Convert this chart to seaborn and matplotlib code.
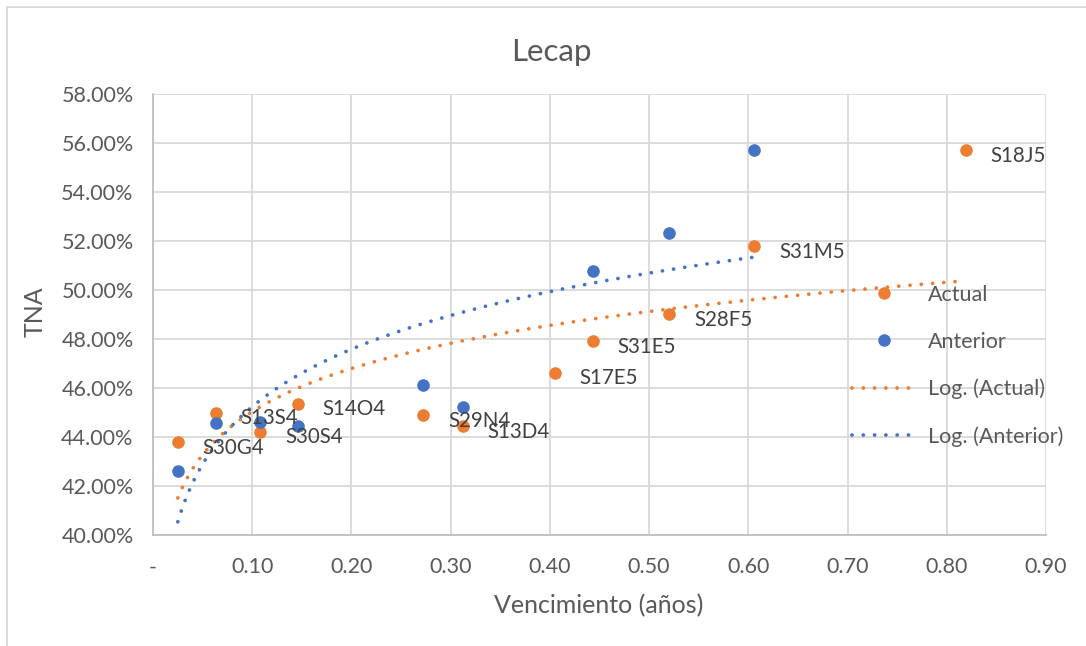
import numpy as np
import pandas as pd
import matplotlib
matplotlib.use("Agg")
import matplotlib.pyplot as plt
import seaborn as sns
from matplotlib.lines import Line2D
from matplotlib.patches import Rectangle
from matplotlib.ticker import FixedLocator, FixedFormatter

# ---------------- data ----------------
actual_x = [0.025, 0.063, 0.108, 0.146, 0.272, 0.312, 0.405, 0.443, 0.520, 0.606, 0.819]
actual_y = [43.79, 44.99, 44.21, 45.36, 44.88, 44.43, 46.61, 47.89, 49.00, 51.77, 55.69]
actual_labels = ["S30G4", "S13S4", "S30S4", "S14O4", "S29N4", "S13D4",
                 "S17E5", "S31E5", "S28F5", "S31M5", "S18J5"]
anterior_x = [0.025, 0.063, 0.108, 0.146, 0.272, 0.312, 0.443, 0.520, 0.606]
anterior_y = [42.60, 44.58, 44.62, 44.45, 46.10, 45.22, 50.75, 52.31, 55.69]

x_ticks = [0.0, 0.1, 0.2, 0.3, 0.4, 0.5, 0.6, 0.7, 0.8, 0.9]
x_tick_labels = ["-", "0.10", "0.20", "0.30", "0.40", "0.50", "0.60", "0.70", "0.80", "0.90"]
y_ticks = [40, 42, 44, 46, 48, 50, 52, 54, 56, 58]
y_tick_labels = ["40.00%", "42.00%", "44.00%", "46.00%", "48.00%",
                 "50.00%", "52.00%", "54.00%", "56.00%", "58.00%"]

title_text = "Lecap"
x_title = "Vencimiento (años)"
y_title = "TNA"
series_names = ["Actual", "Anterior", "Log. (Actual)", "Log. (Anterior)"]

# ---------------- style ----------------
ORANGE = "#ED7D31"
BLUE = "#4472C4"
GRID = "#D9D9D9"
TEXT = "#595959"

sns.set_theme(style="white")
plt.rcParams["font.family"] = ["Lato", "DejaVu Sans"]

W, H = 1086, 646
fig = plt.figure(figsize=(W / 100, H / 100), dpi=100)
fig.patch.set_facecolor("white")

# chart border (light gray), open at right/bottom edges of the crop
fig.add_artist(Rectangle((7 / W, -0.1), 1.2, (1 - 7 / H) + 0.1, transform=fig.transFigure,
                         fill=False, edgecolor=GRID, linewidth=1.3))

ax_left, ax_right, ax_top, ax_bot = 153, 1046, 93.5, 535
ax = fig.add_axes([ax_left / W, 1 - ax_bot / H, (ax_right - ax_left) / W, (ax_bot - ax_top) / H])

df_act = pd.DataFrame({"x": actual_x, "y": actual_y, "label": actual_labels})
df_ant = pd.DataFrame({"x": anterior_x, "y": anterior_y})

sns.scatterplot(data=df_act, x="x", y="y", color=ORANGE, s=82, linewidth=0, ax=ax, zorder=3)
sns.scatterplot(data=df_ant, x="x", y="y", color=BLUE, s=82, linewidth=0, ax=ax, zorder=3)

dot_style = dict(linewidth=2.7, linestyle=(0, (0.01, 3.0)), dash_capstyle="round")


def log_trend(xv, yv):
    xv = np.asarray(xv, float)
    yv = np.asarray(yv, float)
    a, b = np.polyfit(np.log(xv), yv, 1)
    xs = np.linspace(xv.min(), xv.max(), 500)
    return xs, a * np.log(xs) + b


xs_a, ys_a = log_trend(actual_x, actual_y)
xs_b, ys_b = log_trend(anterior_x, anterior_y)
ax.plot(xs_a, ys_a, color=ORANGE, zorder=4, **dot_style)
ax.plot(xs_b, ys_b, color=BLUE, zorder=4, **dot_style)

for xv, yv, lab in zip(actual_x, actual_y, actual_labels):
    ax.annotate(lab, (xv, yv), xytext=(18, -4), textcoords="offset points",
                ha="left", va="center", fontsize=14.8, color="#404040", zorder=5)

ax.set_xlim(0, 0.9)
ax.set_ylim(40, 58)
ax.xaxis.set_major_locator(FixedLocator(x_ticks))
ax.xaxis.set_major_formatter(FixedFormatter(x_tick_labels))
ax.yaxis.set_major_locator(FixedLocator(y_ticks))
ax.yaxis.set_major_formatter(FixedFormatter(y_tick_labels))
ax.grid(True, color=GRID, linewidth=1.3)
ax.set_axisbelow(True)
for side in ["top", "right"]:
    ax.spines[side].set_visible(False)
for side in ["left", "bottom"]:
    ax.spines[side].set_color("#BFBFBF")
    ax.spines[side].set_linewidth(1.3)
ax.tick_params(axis="both", length=0, labelsize=15.5, labelcolor=TEXT)
ax.tick_params(axis="y", pad=14)
ax.tick_params(axis="x", pad=16)
ax.set_xlabel("")
ax.set_ylabel("")

fig.text(551 / W, 1 - 52 / H, title_text, ha="center", va="center", fontsize=22.5, color=TEXT)
fig.text(599 / W, 1 - 606 / H, x_title, ha="center", va="center", fontsize=18, color=TEXT)
fig.text(35 / W, 1 - 312 / H, y_title, ha="center", va="center", rotation=90, fontsize=18, color=TEXT)

handles = [
    Line2D([], [], linestyle="none", marker="o", markersize=9, color=ORANGE, markeredgewidth=0),
    Line2D([], [], linestyle="none", marker="o", markersize=9, color=BLUE, markeredgewidth=0),
    Line2D([], [], color=ORANGE, **dot_style),
    Line2D([], [], color=BLUE, **dot_style),
]
leg = fig.legend(handles, series_names, loc="upper left",
                 bbox_to_anchor=(852 / W, 1 - 285 / H), bbox_transform=fig.transFigure,
                 frameon=False, fontsize=15.5, handlelength=3.0, handletextpad=0.55,
                 labelspacing=1.25, borderpad=0, borderaxespad=0)
for t in leg.get_texts():
    t.set_color(TEXT)

fig.savefig("out.png", dpi=100, facecolor="white")
